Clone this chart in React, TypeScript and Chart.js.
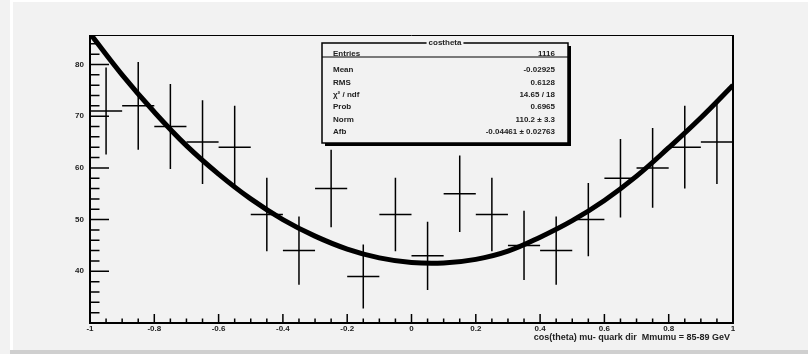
import React, { useEffect, useRef } from "react";
import { Chart, registerables } from "chart.js";
Chart.register(...registerables);

// ---- data ----
const binCenters = [-0.95, -0.85, -0.75, -0.65, -0.55, -0.45, -0.35, -0.25, -0.15, -0.05, 0.05, 0.15, 0.25, 0.35, 0.45, 0.55, 0.65, 0.75, 0.85, 0.95];
const counts = [71, 72, 68, 65, 64, 51, 44, 56, 39, 51, 43, 55, 51, 45, 44, 50, 58, 60, 64, 65];
const errors = [8.4, 8.5, 8.2, 8.1, 8.0, 7.1, 6.6, 7.5, 6.2, 7.1, 6.6, 7.4, 7.1, 6.7, 6.6, 7.1, 7.6, 7.7, 8.0, 8.1];
const binHalfWidth = 0.05;

const fitX = [-1, -0.9, -0.8, -0.7, -0.6, -0.5, -0.4, -0.3, -0.2, -0.1, 0, 0.1, 0.2, 0.3, 0.4, 0.5, 0.6, 0.7, 0.8, 0.9, 1];
const fitY = [86.0, 78.0, 70.8, 64.3, 58.8, 54.0, 50.0, 46.8, 44.3, 42.6, 41.7, 41.6, 42.3, 43.9, 46.6, 49.8, 53.7, 58.4, 63.9, 69.7, 76.0];

const xTickValues = [-1, -0.8, -0.6, -0.4, -0.2, 0, 0.2, 0.4, 0.6, 0.8, 1];
const xTickLabels = ["-1", "-0.8", "-0.6", "-0.4", "-0.2", "0", "0.2", "0.4", "0.6", "0.8", "1"];
const yTickValues = [40, 50, 60, 70, 80];
const yTickLabels = ["40", "50", "60", "70", "80"];

const xTitle = "cos(theta) mu- quark dir  Mmumu = 85-89 GeV";
const statsTitle = "costheta";
const statsLabels = ["Entries", "Mean", "RMS", "\u03C7\u00B2 / ndf", "Prob", "Norm", "Afb"];
const statsValues = ["1116", "-0.02925", "0.6128", "14.65 / 18", "0.6965", "110.2 \u00B1 3.3", "-0.04461 \u00B1 0.02763"];

const X_MIN = -1, X_MAX = 1, Y_MIN = 30, Y_MAX = 85.7;
const BG = "#f2f2f2";
const FONT = "Liberation Sans, Arial, sans-serif";

const rootPlugin = {
  id: "rootStyle",
  beforeDraw(chart: any) {
    const { ctx, width, height } = chart;
    ctx.save();
    ctx.fillStyle = BG;
    ctx.fillRect(0, 0, width, height);
    // bevel
    ctx.fillStyle = "#ffffff";
    ctx.fillRect(10, 0, width - 10, 2);
    ctx.fillRect(10, 0, 3, height - 4);
    ctx.fillStyle = "#cfcfcf";
    ctx.fillRect(10, height - 4, width - 10, 4);
    ctx.restore();
  },
  beforeDatasetsDraw(chart: any) {
    const { ctx, chartArea } = chart;
    const xs = chart.scales.x, ys = chart.scales.y;
    ctx.save();
    ctx.beginPath();
    ctx.rect(chartArea.left, chartArea.top, chartArea.right - chartArea.left, chartArea.bottom - chartArea.top);
    ctx.clip();
    ctx.strokeStyle = "#000";
    ctx.lineWidth = 1.5;
    for (let i = 0; i < binCenters.length; i++) {
      const c = binCenters[i];
      const px = xs.getPixelForValue(c);
      const x0 = xs.getPixelForValue(c - binHalfWidth);
      const x1 = xs.getPixelForValue(c + binHalfWidth);
      const py = ys.getPixelForValue(counts[i]);
      const ylo = ys.getPixelForValue(counts[i] - errors[i]);
      const yhi = ys.getPixelForValue(counts[i] + errors[i]);
      ctx.beginPath();
      ctx.moveTo(x0, py); ctx.lineTo(x1, py);
      ctx.moveTo(px, ylo); ctx.lineTo(px, yhi);
      ctx.stroke();
    }
    ctx.restore();
  },
  afterDatasetsDraw(chart: any) {
    const { ctx, chartArea } = chart;
    const xs = chart.scales.x, ys = chart.scales.y;
    const L = chartArea.left, R = chartArea.right, T = chartArea.top, B = chartArea.bottom;
    ctx.save();
    ctx.strokeStyle = "#000";
    // frame
    ctx.lineWidth = 1;
    ctx.beginPath();
    ctx.moveTo(L, T + 0.5); ctx.lineTo(R, T + 0.5);
    ctx.stroke();
    ctx.lineWidth = 2;
    ctx.beginPath();
    ctx.moveTo(R, T); ctx.lineTo(R, B);
    ctx.moveTo(L, T); ctx.lineTo(L, B + 1);
    ctx.moveTo(L - 1, B); ctx.lineTo(R + 1, B);
    ctx.stroke();
    // x ticks (inside)
    ctx.lineWidth = 1.5;
    ctx.beginPath();
    for (let k = 0; k <= 40; k++) {
      const v = X_MIN + k * 0.05;
      const px = xs.getPixelForValue(v);
      const len = k % 4 === 0 ? 9 : 4.5;
      ctx.moveTo(px, B); ctx.lineTo(px, B - len);
    }
    // y ticks
    for (let v = 30; v <= Y_MAX; v += 2) {
      const py = ys.getPixelForValue(v);
      const len = v % 10 === 0 ? 19 : 9.5;
      ctx.moveTo(L, py); ctx.lineTo(L + len, py);
    }
    ctx.stroke();
    // tick labels
    ctx.fillStyle = "#222";
    ctx.font = "bold 8px " + FONT;
    ctx.textAlign = "center";
    ctx.textBaseline = "top";
    xTickValues.forEach((v, i) => {
      ctx.fillText(xTickLabels[i], xs.getPixelForValue(v), B + 2);
    });
    ctx.textAlign = "right";
    ctx.textBaseline = "middle";
    yTickValues.forEach((v, i) => {
      ctx.fillText(yTickLabels[i], L - 6, ys.getPixelForValue(v));
    });
    // x title
    ctx.font = "bold 9px " + FONT;
    ctx.textAlign = "right";
    ctx.textBaseline = "middle";
    ctx.fillText(xTitle, R - 3, B + 15);

    // stats box
    const bx = 322, by = 43, bw = 246, bh = 100;
    ctx.fillStyle = "#000";
    ctx.fillRect(bx + 3, by + bh, bw, 3);
    ctx.fillRect(bx + bw, by + 3, 3, bh);
    ctx.fillStyle = BG;
    ctx.fillRect(bx, by, bw, bh);
    ctx.strokeStyle = "#000";
    ctx.lineWidth = 1.5;
    ctx.strokeRect(bx, by, bw, bh);
    // entries separator line
    ctx.lineWidth = 1.2;
    ctx.beginPath();
    ctx.moveTo(bx, by + 14); ctx.lineTo(bx + bw, by + 14);
    ctx.stroke();
    // title
    ctx.font = "bold 8px " + FONT;
    const tw = ctx.measureText(statsTitle).width;
    ctx.fillStyle = BG;
    ctx.fillRect(bx + bw / 2 - tw / 2 - 2, by - 4, tw + 4, 7);
    ctx.fillStyle = "#222";
    ctx.textAlign = "center";
    ctx.textBaseline = "middle";
    ctx.fillText(statsTitle, bx + bw / 2, by);
    const rowY = [by + 11, by + 27, by + 39.5, by + 52, by + 63.5, by + 77, by + 88.5];
    statsLabels.forEach((lab, i) => {
      ctx.textAlign = "left";
      ctx.fillText(lab, bx + 11, rowY[i]);
      ctx.textAlign = "right";
      ctx.fillText(statsValues[i], bx + bw - 13, rowY[i]);
    });
    ctx.restore();
  },
};

export default function App() {
  const ref = useRef<HTMLCanvasElement | null>(null);
  useEffect(() => {
    if (!ref.current) return;
    const chart = new Chart(ref.current, {
      type: "line",
      data: {
        datasets: [
          {
            label: "fit",
            data: fitX.map((x, i) => ({ x, y: fitY[i] })),
            borderColor: "#000",
            borderWidth: 5,
            pointRadius: 0,
            tension: 0.4,
            fill: false,
          },
        ],
      },
      options: {
        animation: false,
        responsive: false,
        devicePixelRatio: 1,
        layout: { padding: { left: 90, right: 75, top: 35, bottom: 31 } },
        plugins: { legend: { display: false }, tooltip: { enabled: false } },
        scales: {
          x: { type: "linear", min: X_MIN, max: X_MAX, display: false },
          y: { type: "linear", min: Y_MIN, max: Y_MAX, display: false },
        },
      },
      plugins: [rootPlugin],
    });
    return () => chart.destroy();
  }, []);
  return (
    <div style={{ position: "absolute", left: 0, top: 0, width: 808, height: 354 }}>
      <canvas ref={ref} width={808} height={354} style={{ display: "block", width: 808, height: 354 }} />
    </div>
  );
}
